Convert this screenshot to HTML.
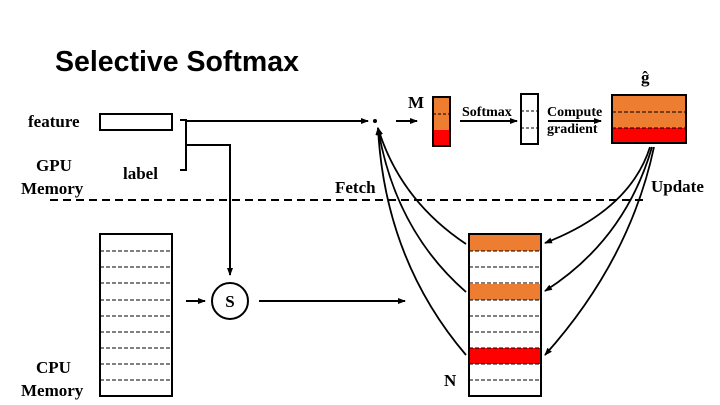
<!DOCTYPE html><html><head><style>body{margin:0;background:#fff}svg{display:block}text{font-family:"Liberation Serif",serif;font-weight:bold}</style></head><body>
<svg width="720" height="405" viewBox="0 0 720 405">
<defs><marker id="a" markerWidth="8" markerHeight="6" refX="7" refY="3" orient="auto" markerUnits="userSpaceOnUse"><path d="M0,0L8,3L0,6z" fill="#000"/></marker></defs>
<text x="55" y="71" style="font-family:'Liberation Sans',sans-serif;font-size:28.5px">Selective Softmax</text>
<g font-size="17">
<text x="28" y="127">feature</text>
<text x="36" y="171">GPU</text><text x="21" y="194">Memory</text>
<text x="123" y="179">label</text>
<text x="335" y="193">Fetch</text>
<text x="651" y="192">Update</text>
<text x="36" y="373">CPU</text><text x="21" y="396">Memory</text>
<text x="408" y="108">M</text>
<text x="444" y="386">N</text>
<text x="462" y="116" font-size="14">Softmax</text>
<text x="547" y="116" font-size="14">Compute</text>
<text x="547" y="133" font-size="14">gradient</text>
<text x="641" y="83">ĝ</text>
</g>
<line x1="50" y1="200" x2="648" y2="200" stroke="#000" stroke-width="2" stroke-dasharray="8,5"/>
<rect x="100" y="114" width="72" height="16" fill="none" stroke="#000" stroke-width="2"/>
<path d="M180,120H186V170H180M186,145H230V275" fill="none" stroke="#000" stroke-width="2" marker-end="url(#a)"/>
<line x1="186" y1="121" x2="368" y2="121" stroke="#000" stroke-width="2" marker-end="url(#a)"/>
<circle cx="375" cy="121" r="2" fill="#000"/>
<line x1="396" y1="121" x2="417" y2="121" stroke="#000" stroke-width="2" marker-end="url(#a)"/>
<rect x="433" y="97" width="17" height="33" fill="#ed7d31"/><rect x="433" y="130" width="17" height="16" fill="#f00"/>
<rect x="433" y="97" width="17" height="49" fill="none" stroke="#000" stroke-width="2"/>
<line x1="433" y1="114" x2="450" y2="114" stroke="#000" stroke-dasharray="3,2"/>
<line x1="460" y1="121" x2="517" y2="121" stroke="#000" stroke-width="2" marker-end="url(#a)"/>
<rect x="521" y="94" width="17" height="50" fill="none" stroke="#000" stroke-width="2"/>
<line x1="521" y1="111" x2="538" y2="111" stroke="#000" stroke-dasharray="3,2"/>
<line x1="521" y1="128" x2="538" y2="128" stroke="#000" stroke-dasharray="3,2"/>
<line x1="548" y1="121" x2="601" y2="121" stroke="#000" stroke-width="2" marker-end="url(#a)"/>
<rect x="612" y="95" width="74" height="33" fill="#ed7d31"/><rect x="612" y="128" width="74" height="15" fill="#f00"/>
<rect x="612" y="95" width="74" height="48" fill="none" stroke="#000" stroke-width="2"/>
<line x1="612" y1="112" x2="686" y2="112" stroke="#000" stroke-dasharray="4,2"/>
<line x1="612" y1="128" x2="686" y2="128" stroke="#000" stroke-dasharray="4,2"/>
<rect x="100" y="234" width="72" height="162" fill="none" stroke="#000" stroke-width="2"/>
<g stroke="#000" stroke-dasharray="4,2">
<line x1="100" y1="251" x2="172" y2="251"/><line x1="100" y1="267" x2="172" y2="267"/><line x1="100" y1="283" x2="172" y2="283"/><line x1="100" y1="300" x2="172" y2="300"/><line x1="100" y1="316" x2="172" y2="316"/><line x1="100" y1="332" x2="172" y2="332"/><line x1="100" y1="348" x2="172" y2="348"/><line x1="100" y1="364" x2="172" y2="364"/><line x1="100" y1="380" x2="172" y2="380"/>
</g>
<line x1="186" y1="301" x2="205" y2="301" stroke="#000" stroke-width="2" marker-end="url(#a)"/>
<circle cx="230" cy="301" r="18" fill="#fff" stroke="#000" stroke-width="2"/>
<text x="230" y="307" text-anchor="middle" font-size="17">S</text>
<line x1="259" y1="301" x2="405" y2="301" stroke="#000" stroke-width="2" marker-end="url(#a)"/>
<rect x="470" y="235" width="71" height="16" fill="#ed7d31"/>
<rect x="470" y="284" width="71" height="16" fill="#ed7d31"/>
<rect x="470" y="348" width="71" height="16" fill="#f00"/>
<rect x="469" y="234" width="72" height="162" fill="none" stroke="#000" stroke-width="2"/>
<g stroke="#000" stroke-dasharray="4,2">
<line x1="469" y1="251" x2="541" y2="251"/><line x1="469" y1="267" x2="541" y2="267"/><line x1="469" y1="283" x2="541" y2="283"/><line x1="469" y1="300" x2="541" y2="300"/><line x1="469" y1="316" x2="541" y2="316"/><line x1="469" y1="332" x2="541" y2="332"/><line x1="469" y1="348" x2="541" y2="348"/><line x1="469" y1="364" x2="541" y2="364"/><line x1="469" y1="380" x2="541" y2="380"/>
</g>
<g fill="none" stroke="#000" stroke-width="1.8" marker-end="url(#a)">
<path d="M466,244Q400,200 378,128"/>
<path d="M466,292Q395,230 378,128"/>
<path d="M466,355Q385,260 378,128"/>
<path d="M650,147Q630,210 545,243"/>
<path d="M652,147Q625,240 545,291"/>
<path d="M654,147Q630,260 545,355"/>
</g>
</svg></body></html>
